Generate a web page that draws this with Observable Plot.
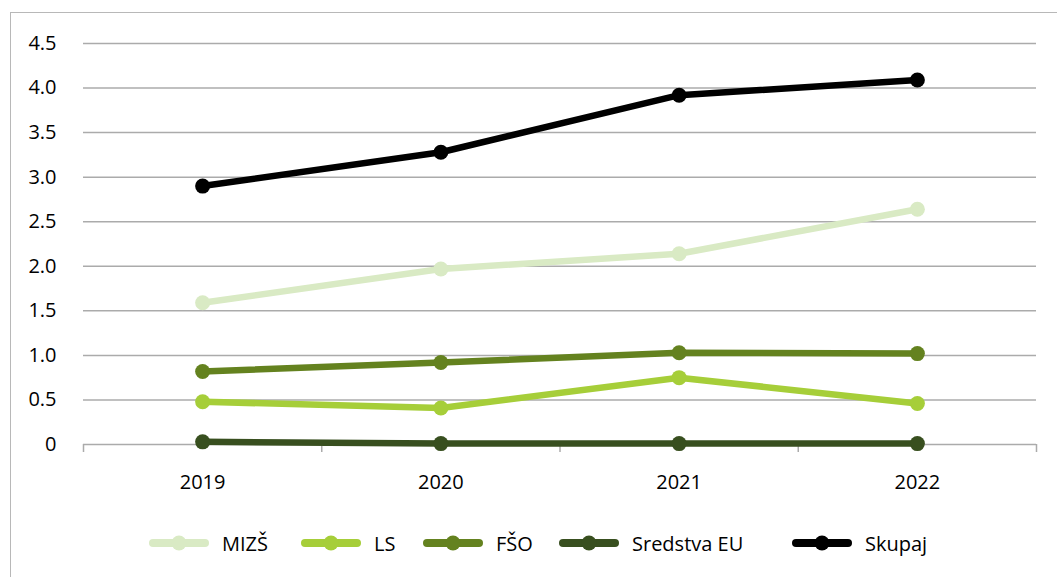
<!DOCTYPE html>
<html><head><meta charset="utf-8">
<script src="https://cdn.jsdelivr.net/npm/d3@7"></script>
<script src="https://cdn.jsdelivr.net/npm/@observablehq/plot@0.6"></script>
<style>
html,body{margin:0;padding:0;background:#fff;overflow:hidden;width:1057px;height:577px;}
#frame{position:absolute;left:10px;top:12px;width:1100px;height:640px;border:1.5px solid #b8b8b8;box-sizing:border-box;}
#chart{position:absolute;left:0;top:0;}
#legend{position:absolute;left:0;top:528px;width:1057px;height:30px;font-family:"Open Sans",sans-serif;font-size:20px;color:#000;}
.item{position:absolute;top:0;display:flex;align-items:center;height:30px;}
.item svg{margin-right:12px;}
</style></head>
<body>
<div id="frame"></div>
<div id="chart"></div>
<div id="legend"></div>
<script>
const years = [2019, 2020, 2021, 2022];
const seriesNames = ["MIZŠ", "LS", "FŠO", "Sredstva EU", "Skupaj"];
const mizs    = [1.59, 1.97, 2.14, 2.64];
const ls      = [0.48, 0.41, 0.75, 0.46];
const fso     = [0.82, 0.92, 1.03, 1.02];
const eu      = [0.03, 0.01, 0.01, 0.01];
const skupaj  = [2.90, 3.28, 3.92, 4.09];
const colors  = ["#d9eac4", "#a6ce39", "#64821f", "#384f1f", "#000000"];
const yTicks  = [0, 0.5, 1, 1.5, 2, 2.5, 3, 3.5, 4, 4.5];

const valuesBySeries = [mizs, ls, fso, eu, skupaj];
const data = seriesNames.flatMap((s, i) => years.map((yr, j) => ({series: s, year: yr, value: valuesBySeries[i][j]})));
const bounds = [...years.map(y => y - 0.5), years[years.length - 1] + 0.5];

const chart = Plot.plot({
  width: 1057,
  height: 500,
  marginLeft: 83,
  marginRight: 21,
  marginTop: 43,
  marginBottom: 56,
  style: {fontFamily: "'Open Sans', sans-serif", fontSize: "20px", color: "#000", background: "transparent"},
  x: {domain: [bounds[0], bounds[bounds.length - 1]]},
  y: {domain: [0, 4.5]},
  color: {domain: seriesNames, range: colors},
  marks: [
    Plot.ruleY(yTicks, {stroke: "#ababab", strokeWidth: 1.5}),
    Plot.axisY({ticks: yTicks, tickSize: 0, tickPadding: 27, fontSize: 20, tickFormat: d => d === 0 ? "0" : d.toFixed(1), label: null}),
    Plot.axisX({ticks: bounds, tickSize: 8, tickFormat: () => "", stroke: "#ababab", strokeWidth: 1.5, label: null}),
    Plot.axisX({ticks: years, tickSize: 0, tickPadding: 30, fontSize: 20, tickFormat: d => String(d), label: null}),
    Plot.line(data, {x: "year", y: "value", z: "series", stroke: "series", strokeWidth: 6.5, strokeLinecap: "round", strokeLinejoin: "round"}),
    Plot.dot(data, {x: "year", y: "value", fill: "series", r: 7.5})
  ]
});
document.getElementById("chart").appendChild(chart);

const legendLeft = [148, 300, 422, 558, 791];
const legend = document.getElementById("legend");
seriesNames.forEach((s, i) => {
  const d = document.createElement("div");
  d.className = "item";
  d.style.left = legendLeft[i] + "px";
  const c = colors[i];
  d.innerHTML = `<svg width="62" height="20"><line x1="5" x2="57" y1="10" y2="10" stroke="${c}" stroke-width="8" stroke-linecap="round"/><circle cx="31" cy="10" r="7.5" fill="${c}"/></svg><span>${s}</span>`;
  legend.appendChild(d);
});
</script>
</body></html>
